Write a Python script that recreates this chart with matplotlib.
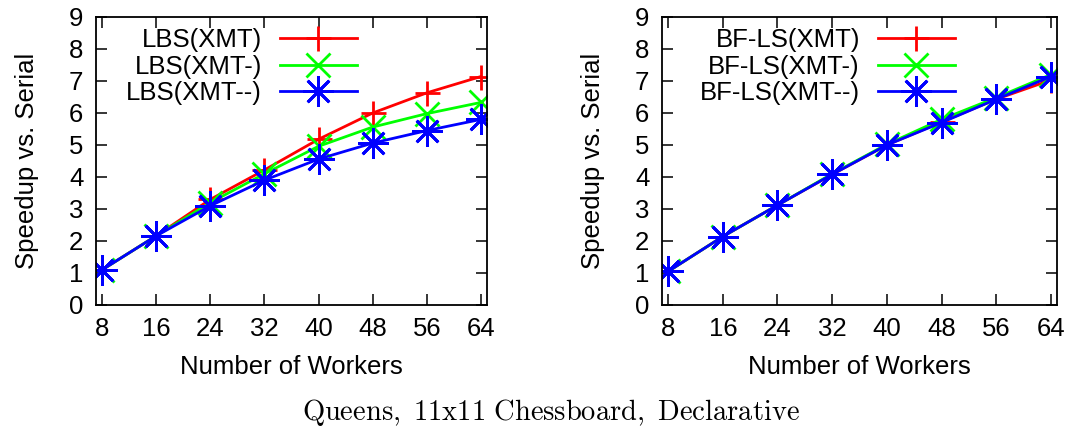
import numpy as np
import matplotlib
matplotlib.use("Agg")
import matplotlib.pyplot as plt

plt.rcParams['font.family'] = ['Liberation Sans', 'DejaVu Sans']
plt.rcParams['mathtext.fontset'] = 'cm'

workers = [8, 16, 24, 32, 40, 48, 56, 64]

lbs_xmt = [1.1, 2.16, 3.3, 4.22, 5.18, 6.0, 6.63, 7.14]
lbs_xmt1 = [1.1, 2.16, 3.2, 4.1, 4.96, 5.56, 5.98, 6.33]
lbs_xmt2 = [1.1, 2.16, 3.1, 3.9, 4.56, 5.06, 5.45, 5.8]

bfls_xmt = [1.05, 2.14, 3.12, 4.08, 5.0, 5.72, 6.43, 7.03]
bfls_xmt1 = [1.05, 2.14, 3.12, 4.1, 5.02, 5.8, 6.48, 7.2]
bfls_xmt2 = [1.05, 2.14, 3.12, 4.08, 5.0, 5.7, 6.43, 7.14]

left_labels = ['LBS(XMT)', 'LBS(XMT-)', 'LBS(XMT--)']
right_labels = ['BF-LS(XMT)', 'BF-LS(XMT-)', 'BF-LS(XMT--)']

COLORS = ['#ff0000', '#00ff00', '#0000ff']
MARKERS = ['+', 'x', (8, 2, 0)]
MSIZES = [18, 17, 22]
FS = 18.5


def draw_panel(ax, series, labels, legend_x):
    for vals, lab, col, mk, ms in zip(series, labels, COLORS, MARKERS, MSIZES):
        ax.plot(workers, vals, color=col, marker=mk, markersize=ms,
                markeredgewidth=2.0, linewidth=2.0, label=lab)
    ax.set_xlim(7.1, 64.9)
    ax.set_ylim(0, 9)
    ax.set_xticks(workers)
    ax.set_yticks(range(10))
    ax.tick_params(direction='in', top=True, right=True, length=8,
                   width=1.1, labelsize=FS, pad=9)
    for sp in ax.spines.values():
        sp.set_linewidth(1.3)
    ax.set_xlabel('Number of Workers', fontsize=FS, labelpad=10)
    ax.set_ylabel('Speedup vs. Serial', fontsize=FS, labelpad=22)
    ax.legend(loc='upper right', bbox_to_anchor=(legend_x, 1 - 28 / 432),
              bbox_transform=ax.figure.transFigure, frameon=False,
              markerfirst=False, fontsize=FS, handlelength=3.0,
              labelspacing=0.1, handletextpad=0.7, borderaxespad=0,
              borderpad=0)


fig = plt.figure(figsize=(10.65, 4.32), dpi=100)
ax1 = fig.add_axes([96 / 1065, 1 - 305 / 432, 391 / 1065, 288 / 432])
ax2 = fig.add_axes([662 / 1065, 1 - 305 / 432, 395 / 1065, 288 / 432])

draw_panel(ax1, [lbs_xmt, lbs_xmt1, lbs_xmt2], left_labels, 357 / 1065)
draw_panel(ax2, [bfls_xmt, bfls_xmt1, bfls_xmt2], right_labels, 955 / 1065)

fig.text(551 / 1065, 1 - 413 / 432, r'$\mathrm{Queens,\ 11x11\ Chessboard,\ Declarative}$',
         ha='center', va='center', fontsize=20.5)

fig.savefig('out.png', dpi=100)
